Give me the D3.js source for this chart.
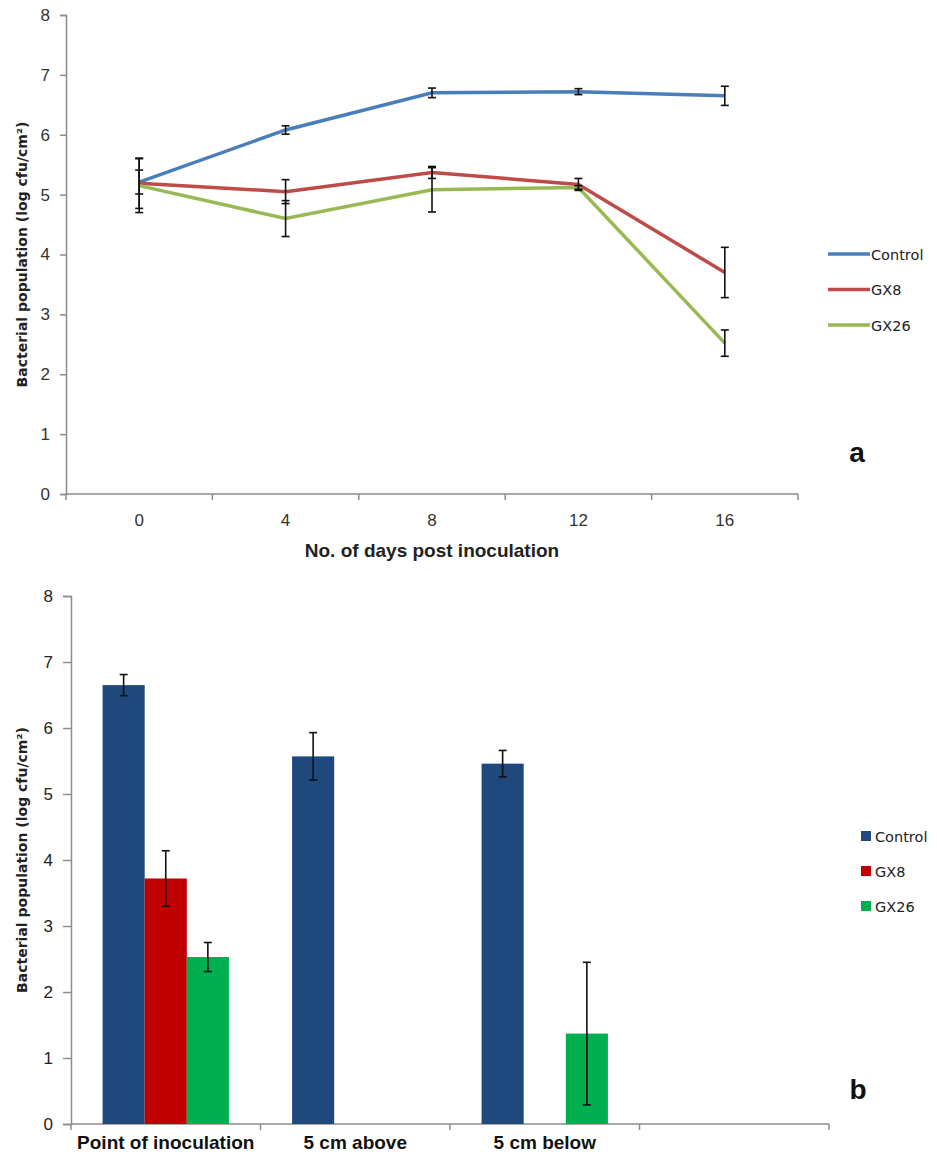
<!DOCTYPE html>
<html>
<head>
<meta charset="utf-8">
<script src="https://cdn.jsdelivr.net/npm/d3@7"></script>
<style>
  body { margin: 0; background: #fff; }
</style>
</head>
<body>
<div id="chart"></div>
<script>
// ---- panel a: line chart data ----
var days = ["0", "4", "8", "12", "16"];
var seriesNames = ["Control", "GX8", "GX26"];
var controlLine = [5.21, 6.08, 6.7, 6.72, 6.65];
var gx8Line = [5.19, 5.05, 5.37, 5.17, 3.7];
var gx26Line = [5.15, 4.6, 5.08, 5.12, 2.52];
var controlLineErr = [0.2, 0.07, 0.08, 0.05, 0.16];
var gx8LineErr = [0.42, 0.2, 0.1, 0.1, 0.42];
var gx26LineErr = [0.45, 0.3, 0.37, 0.03, 0.22];

// ---- panel b: bar chart data ----
var sites = ["Point of inoculation", "5 cm above", "5 cm below", ""];
var controlBar = [6.65, 5.57, 5.46, null];
var gx8Bar = [3.72, null, null, null];
var gx26Bar = [2.53, null, 1.37, null];
var controlBarErr = [0.16, 0.36, 0.2, null];
var gx8BarErr = [0.42, null, null, null];
var gx26BarErr = [0.22, null, 1.08, null];

var yTicks = [0, 1, 2, 3, 4, 5, 6, 7, 8];
var yTitle = "Bacterial population (log cfu/cm²)";

var lineColors = ["#4a7ebb", "#be4b48", "#98b954"];
var barColors = ["#1f497d", "#c00000", "#00b050"];
var axisColor = "#8c8c8c";
var SANS = '"Liberation Sans", Arial, sans-serif';
var WIDE = '"DejaVu Sans", Verdana, sans-serif';

var svg = d3.select("#chart").append("svg")
  .attr("width", 937)
  .attr("height", 1159)
  .style("font-family", SANS);

function axisStyle(g) {
  g.select(".domain").attr("stroke", axisColor).attr("stroke-width", 1.5);
  g.selectAll(".tick line").attr("stroke", axisColor).attr("stroke-width", 1.5);
  g.selectAll(".tick text").attr("fill", "#333").style("font-family", SANS).style("font-size", "17px");
}

// ================= panel a =================
var a = {left: 66, right: 798, top: 15, bottom: 494};

var xA = d3.scaleBand().domain(days).range([a.left, a.right]).padding(0);
var yA = d3.scaleLinear().domain([0, 8]).range([a.bottom, a.top]);
var cx = function(d) { return xA(d) + xA.bandwidth() / 2; };

svg.append("g")
  .attr("transform", "translate(" + a.left + ",0)")
  .call(d3.axisLeft(yA).tickValues(yTicks).tickSize(6).tickPadding(10).tickFormat(d3.format("d")))
  .call(axisStyle);

var gxA = svg.append("g")
  .attr("transform", "translate(0," + a.bottom + ")")
  .call(d3.axisBottom(xA).tickSize(0).tickPadding(20))
  .call(axisStyle);
gxA.select(".domain").attr("d", "M" + a.left + ",0H" + a.right);

// boundary ticks
gxA.selectAll(".btick")
  .data(days.map(function(d) { return xA(d); }).concat([a.right]))
  .enter().append("line")
  .attr("x1", function(d) { return d; }).attr("x2", function(d) { return d; })
  .attr("y1", 0).attr("y2", 6)
  .attr("stroke", axisColor).attr("stroke-width", 1.5);

var lineData = [controlLine, gx8Line, gx26Line];
var lineErr = [controlLineErr, gx8LineErr, gx26LineErr];

var line = d3.line()
  .x(function(d, i) { return cx(days[i]); })
  .y(function(d) { return yA(d); });

svg.selectAll(".series")
  .data(lineData)
  .enter().append("path")
  .attr("d", line)
  .attr("fill", "none")
  .attr("stroke", function(d, i) { return lineColors[i]; })
  .attr("stroke-width", 3.5);

// error bars
lineData.forEach(function(vals, s) {
  var g = svg.append("g").attr("stroke", "#111").attr("stroke-width", 1.6);
  vals.forEach(function(v, i) {
    var e = lineErr[s][i];
    var x = cx(days[i]);
    g.append("line").attr("x1", x).attr("x2", x).attr("y1", yA(v - e)).attr("y2", yA(v + e));
    g.append("line").attr("x1", x - 4).attr("x2", x + 4).attr("y1", yA(v - e)).attr("y2", yA(v - e));
    g.append("line").attr("x1", x - 4).attr("x2", x + 4).attr("y1", yA(v + e)).attr("y2", yA(v + e));
  });
});

svg.append("text")
  .attr("x", (a.left + a.right) / 2).attr("y", 557)
  .attr("text-anchor", "middle")
  .style("font-size", "19px").style("font-weight", "bold").attr("fill", "#222")
  .text("No. of days post inoculation");

svg.append("text")
  .attr("transform", "translate(27," + ((a.top + a.bottom) / 2) + ") rotate(-90)")
  .attr("text-anchor", "middle")
  .style("font-family", WIDE)
  .style("font-size", "14px").style("font-weight", "bold").attr("fill", "#222")
  .text(yTitle);

var legA = svg.append("g");
seriesNames.forEach(function(n, i) {
  var y = 254 + i * 35.5;
  legA.append("line").attr("x1", 828).attr("x2", 870).attr("y1", y).attr("y2", y)
    .attr("stroke", lineColors[i]).attr("stroke-width", 3.5);
  legA.append("text").attr("x", 871).attr("y", y + 5.5)
    .style("font-family", WIDE).style("font-size", "14.5px").attr("fill", "#222").text(n);
});

svg.append("text").attr("x", 857).attr("y", 462)
  .attr("text-anchor", "middle")
  .style("font-size", "28px").style("font-weight", "bold").attr("fill", "#111")
  .text("a");

// ================= panel b =================
var b = {left: 71, right: 829, top: 596, bottom: 1124};

var xB = d3.scaleBand().domain(d3.range(sites.length)).range([b.left, b.right]).padding(0);
var xInner = d3.scaleBand().domain(d3.range(3))
  .range([0, xB.bandwidth()]).paddingOuter(0.75).paddingInner(0);
var yB = d3.scaleLinear().domain([0, 8]).range([b.bottom, b.top]);

svg.append("g")
  .attr("transform", "translate(" + b.left + ",0)")
  .call(d3.axisLeft(yB).tickValues(yTicks).tickSize(8).tickPadding(10).tickFormat(d3.format("d")))
  .call(axisStyle)
  .call(function(g) { g.selectAll(".tick text").attr("fill", "#222"); });

var gxB = svg.append("g")
  .attr("transform", "translate(0," + b.bottom + ")")
  .call(d3.axisBottom(xB).tickSize(0).tickPadding(12).tickFormat(function(i) { return sites[i]; }))
  .call(axisStyle);
gxB.select(".domain").attr("d", "M" + b.left + ",0H" + b.right);
gxB.selectAll(".tick text")
  .style("font-size", "19px").style("font-weight", "bold").attr("fill", "#111");
gxB.selectAll(".btick")
  .data(d3.range(sites.length).map(function(i) { return xB(i); }).concat([b.right]))
  .enter().append("line")
  .attr("x1", function(d) { return d; }).attr("x2", function(d) { return d; })
  .attr("y1", 0).attr("y2", 6)
  .attr("stroke", axisColor).attr("stroke-width", 1.5);

var barData = [controlBar, gx8Bar, gx26Bar];
var barErr = [controlBarErr, gx8BarErr, gx26BarErr];

barData.forEach(function(vals, s) {
  var g = svg.append("g");
  vals.forEach(function(v, i) {
    if (v == null) return;
    var x0 = xB(i) + xInner(s);
    g.append("rect")
      .attr("x", x0).attr("y", yB(v))
      .attr("width", xInner.bandwidth()).attr("height", yB(0) - yB(v))
      .attr("fill", barColors[s]);
  });
});

barData.forEach(function(vals, s) {
  var g = svg.append("g").attr("stroke", "#111").attr("stroke-width", 1.6);
  vals.forEach(function(v, i) {
    var e = barErr[s][i];
    if (v == null || e == null) return;
    var x = xB(i) + xInner(s) + xInner.bandwidth() / 2;
    g.append("line").attr("x1", x).attr("x2", x).attr("y1", yB(v - e)).attr("y2", yB(v + e));
    g.append("line").attr("x1", x - 4).attr("x2", x + 4).attr("y1", yB(v - e)).attr("y2", yB(v - e));
    g.append("line").attr("x1", x - 4).attr("x2", x + 4).attr("y1", yB(v + e)).attr("y2", yB(v + e));
  });
});

svg.append("text")
  .attr("transform", "translate(27," + ((b.top + b.bottom) / 2) + ") rotate(-90)")
  .attr("text-anchor", "middle")
  .style("font-family", WIDE)
  .style("font-size", "14px").style("font-weight", "bold").attr("fill", "#222")
  .text(yTitle);

var legB = svg.append("g");
seriesNames.forEach(function(n, i) {
  var y = 836 + i * 35;
  legB.append("rect").attr("x", 861).attr("y", y - 5).attr("width", 10).attr("height", 10)
    .attr("fill", barColors[i]);
  legB.append("text").attr("x", 875).attr("y", y + 5.5)
    .style("font-family", WIDE).style("font-size", "14.5px").attr("fill", "#222").text(n);
});

svg.append("text").attr("x", 858).attr("y", 1099)
  .attr("text-anchor", "middle")
  .style("font-size", "28px").style("font-weight", "bold").attr("fill", "#111")
  .text("b");
</script>
</body>
</html>
